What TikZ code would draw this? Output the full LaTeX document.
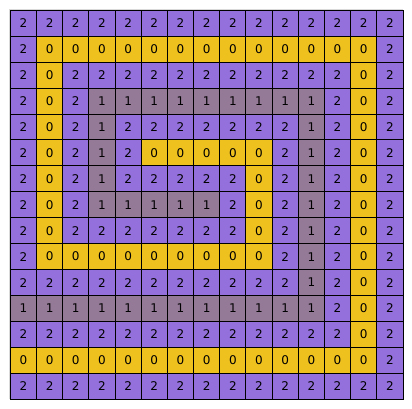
\documentclass[tikz,border=0pt]{standalone}
\usepackage{fontspec}
\setmainfont{DejaVu Sans}
\definecolor{col0}{RGB}{239,193,30}
\definecolor{col1}{RGB}{149,122,152}
\definecolor{col2}{RGB}{147,112,219}
\tikzset{
  cell/.style={draw=black, line width=1pt, minimum width=26.18pt, minimum height=25.93pt,
    inner sep=0pt, outer sep=0pt, font=\fontsize{12}{13}\selectfont, text=black},
}
\begin{document}
\begin{tikzpicture}[x=1pt,y=1pt]
\useasboundingbox (0,0) rectangle (412,409);
\draw[black!15, line width=1pt] (9.3,9.7) -- (9.3,399.7) -- (403,399.7);
\foreach \rowvals [count=\r from 0] in {
 {2,2,2,2,2,2,2,2,2,2,2,2,2,2,2},
 {2,0,0,0,0,0,0,0,0,0,0,0,0,0,2},
 {2,0,2,2,2,2,2,2,2,2,2,2,2,0,2},
 {2,0,2,1,1,1,1,1,1,1,1,1,2,0,2},
 {2,0,2,1,2,2,2,2,2,2,2,1,2,0,2},
 {2,0,2,1,2,0,0,0,0,0,2,1,2,0,2},
 {2,0,2,1,2,2,2,2,2,0,2,1,2,0,2},
 {2,0,2,1,1,1,1,1,2,0,2,1,2,0,2},
 {2,0,2,2,2,2,2,2,2,0,2,1,2,0,2},
 {2,0,0,0,0,0,0,0,0,0,2,1,2,0,2},
 {2,2,2,2,2,2,2,2,2,2,2,1,2,0,2},
 {1,1,1,1,1,1,1,1,1,1,1,1,2,0,2},
 {2,2,2,2,2,2,2,2,2,2,2,2,2,0,2},
 {0,0,0,0,0,0,0,0,0,0,0,0,0,0,2},
 {2,2,2,2,2,2,2,2,2,2,2,2,2,2,2}} {
  \foreach \v [count=\c from 0] in \rowvals {
    \node[cell, fill=col\v] (c-\r-\c) at ({10.3+26.18*(\c+0.5)}, {398.7-25.93*(\r+0.5)}) {\v};
  }
}
\end{tikzpicture}
\end{document}
